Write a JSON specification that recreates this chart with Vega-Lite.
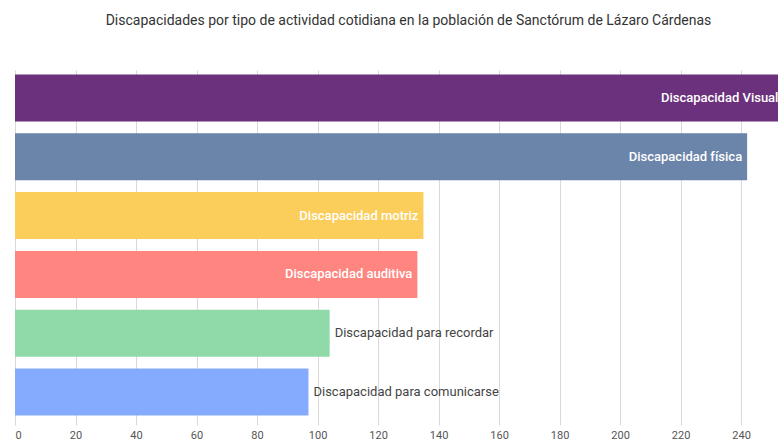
{
  "$schema": "https://vega.github.io/schema/vega-lite/v6.json",
  "width": 763,
  "height": 350,
  "autosize": {"type": "none"},
  "padding": {"left": 15, "top": 70, "right": 0, "bottom": 24},
  "background": "white",
  "title": {
    "text": "Discapacidades por tipo de actividad cotidiana en la población de Sanctórum de Lázaro Cárdenas",
    "font": "Roboto",
    "fontSize": 14,
    "fontWeight": "normal",
    "color": "#333333",
    "anchor": "middle",
    "dx": 12,
    "offset": 42
  },
  "config": {
    "view": {"stroke": null},
    "font": "Roboto"
  },
  "data": {
    "values": [
      {"tipo": "Discapacidad Visual", "valor": 254, "color": "#6c317c"},
      {"tipo": "Discapacidad física", "valor": 242, "color": "#6a84aa"},
      {"tipo": "Discapacidad motriz", "valor": 135, "color": "#fbcd5a"},
      {"tipo": "Discapacidad auditiva", "valor": 133, "color": "#fe8580"},
      {"tipo": "Discapacidad para recordar", "valor": 104, "color": "#8fdaa8"},
      {"tipo": "Discapacidad para comunicarse", "valor": 97, "color": "#84abfd"}
    ]
  },
  "encoding": {
    "y": {
      "field": "tipo",
      "type": "nominal",
      "sort": null,
      "axis": null,
      "scale": {"paddingInner": 0.2, "paddingOuter": 0.075}
    },
    "x": {
      "field": "valor",
      "type": "quantitative",
      "scale": {"domain": [0, 252.2], "nice": false, "zero": true},
      "axis": {
        "title": null,
        "values": [0, 20, 40, 60, 80, 100, 120, 140, 160, 180, 200, 220, 240],
        "domain": false,
        "grid": true,
        "gridColor": "#d9d9d9",
        "tickColor": "#d9d9d9",
        "tickSize": 5,
        "labelColor": "#555555",
        "labelFontSize": 11,
        "labelPadding": 4,
        "labelFont": "Roboto"
      }
    }
  },
  "layer": [
    {
      "mark": {"type": "bar", "clip": true},
      "encoding": {
        "color": {"field": "color", "type": "nominal", "scale": null}
      }
    },
    {
      "transform": [{"filter": "datum.valor > 120"}],
      "mark": {"type": "text", "align": "right", "dx": -5, "color": "white", "fontSize": 13, "fontWeight": 500, "font": "Roboto"},
      "encoding": {"text": {"field": "tipo"}}
    },
    {
      "transform": [{"filter": "datum.valor <= 120"}],
      "mark": {"type": "text", "align": "left", "dx": 5, "color": "#444444", "fontSize": 13, "font": "Roboto"},
      "encoding": {"text": {"field": "tipo"}}
    }
  ]
}
